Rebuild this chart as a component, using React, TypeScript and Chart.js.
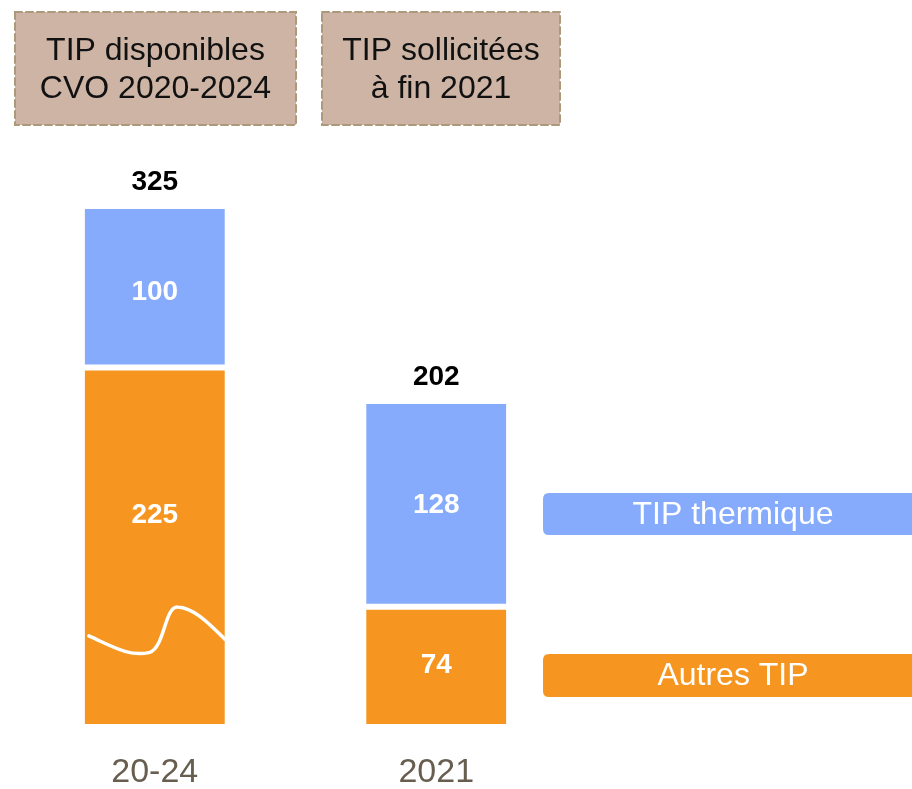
import React, { useEffect, useRef } from "react";
import { Chart, registerables } from "chart.js";

Chart.register(...registerables);

const categories = ["20-24", "2021"];
const autresTip = [225, 74];
const tipThermique = [100, 128];
const headerLines = [
  ["TIP disponibles", "CVO 2020-2024"],
  ["TIP sollicitées", "à fin 2021"],
];
const legendLabels = ["TIP thermique", "Autres TIP"];
const innerLabelOffsets = [[-30, 0], [4, 0]]; // [orange], [blue] per category (px)

const BLUE = "rgb(134,171,253)";
const ORANGE = "rgb(246,150,32)";
const FONT = "'Liberation Sans', Arial, sans-serif";

// decorative white curve inside first orange bar (fractions of bar rect)
const curve = [
  [0.03, 0.753],
  [0.18, 0.779], [0.32, 0.814], [0.464, 0.799],
  [0.571, 0.785], [0.571, 0.669], [0.664, 0.672],
  [0.786, 0.674], [0.907, 0.727], [1.0, 0.762],
];

function roundRect(ctx: CanvasRenderingContext2D, x: number, y: number, w: number, h: number, r: number) {
  ctx.beginPath();
  ctx.moveTo(x + r, y);
  ctx.lineTo(x + w - r, y);
  ctx.quadraticCurveTo(x + w, y, x + w, y + r);
  ctx.lineTo(x + w, y + h - r);
  ctx.quadraticCurveTo(x + w, y + h, x + w - r, y + h);
  ctx.lineTo(x + r, y + h);
  ctx.quadraticCurveTo(x, y + h, x, y + h - r);
  ctx.lineTo(x, y + r);
  ctx.quadraticCurveTo(x, y, x + r, y);
  ctx.closePath();
}

const overlayPlugin = {
  id: "overlay",
  afterDatasetsDraw(chart: any) {
    const ctx: CanvasRenderingContext2D = chart.ctx;
    ctx.save();
    const metaO = chart.getDatasetMeta(0);
    const metaB = chart.getDatasetMeta(1);

    // curve in first orange bar
    const b0 = metaO.data[0].getProps(["x", "y", "base", "width"], true);
    const bx = b0.x - b0.width / 2;
    const by = b0.y;
    const bw = b0.width;
    const bh = b0.base - b0.y;
    const P = (i: number) => [bx + curve[i][0] * bw, by + curve[i][1] * bh];
    ctx.beginPath();
    ctx.moveTo(P(0)[0], P(0)[1]);
    for (let i = 1; i < curve.length; i += 3) {
      const a = P(i), b = P(i + 1), c = P(i + 2);
      ctx.bezierCurveTo(a[0], a[1], b[0], b[1], c[0], c[1]);
    }
    ctx.strokeStyle = "#ffffff";
    ctx.lineWidth = 3.5;
    ctx.lineCap = "round";
    ctx.stroke();

    // inner labels
    ctx.textAlign = "center";
    ctx.textBaseline = "middle";
    ctx.font = `bold 28px ${FONT}`;
    ctx.fillStyle = "#ffffff";
    [metaO, metaB].forEach((meta: any, di: number) => {
      const vals = di === 0 ? autresTip : tipThermique;
      meta.data.forEach((el: any, i: number) => {
        const p = el.getProps(["x", "y", "base"], true);
        ctx.fillText(String(vals[i]), p.x, (p.y + p.base) / 2 + innerLabelOffsets[di][i]);
      });
    });

    // totals
    ctx.fillStyle = "#000000";
    metaB.data.forEach((el: any, i: number) => {
      const p = el.getProps(["x", "y"], true);
      ctx.fillText(String(autresTip[i] + tipThermique[i]), p.x, p.y - 27);
    });

    // header boxes
    const headerBoxes = [
      [15, 12, 281, 113],
      [322, 12, 238, 113],
    ];
    headerBoxes.forEach((bxs, i) => {
      const [x, y, w, h] = bxs;
      ctx.fillStyle = "rgb(205,180,165)";
      ctx.fillRect(x, y, w, h);
      ctx.setLineDash([7, 4]);
      ctx.lineWidth = 2;
      ctx.strokeStyle = "rgb(172,152,122)";
      ctx.strokeRect(x, y, w, h);
      ctx.setLineDash([]);
      ctx.fillStyle = "#111111";
      ctx.font = `32px ${FONT}`;
      ctx.fillText(headerLines[i][0], x + w / 2, 51);
      ctx.fillText(headerLines[i][1], x + w / 2, 89);
    });

    // legend boxes
    const legendBoxes = [
      [543, 493, 380, 42, BLUE],
      [543, 654, 380, 43, ORANGE],
    ];
    legendBoxes.forEach((lb: any, i) => {
      const [x, y, w, h, c] = lb;
      ctx.fillStyle = c;
      roundRect(ctx, x, y, w, h, 6);
      ctx.fill();
      ctx.fillStyle = "#ffffff";
      ctx.font = `32px ${FONT}`;
      ctx.fillText(legendLabels[i], 733, y + h / 2 + 1);
    });

    ctx.restore();
  },
};

export default function App() {
  const ref = useRef<HTMLCanvasElement>(null);
  useEffect(() => {
    if (!ref.current) return;
    const chart = new Chart(ref.current, {
      type: "bar",
      data: {
        labels: categories,
        datasets: [
          {
            label: "Autres TIP",
            data: autresTip,
            backgroundColor: ORANGE,
            borderColor: "#ffffff",
            borderWidth: { top: 3, bottom: 0, left: 0, right: 0 },
            borderSkipped: false,
            barPercentage: 1,
            categoryPercentage: 0.498,
          },
          {
            label: "TIP thermique",
            data: tipThermique,
            backgroundColor: BLUE,
            borderColor: "#ffffff",
            borderWidth: { top: 0, bottom: 3, left: 0, right: 0 },
            borderSkipped: false,
            barPercentage: 1,
            categoryPercentage: 0.498,
          },
        ],
      },
      options: {
        animation: false,
        responsive: true,
        maintainAspectRatio: false,
        layout: { padding: { top: 209, left: 14, right: 335, bottom: 0 } },
        plugins: { legend: { display: false }, tooltip: { enabled: false } },
        scales: {
          x: {
            stacked: true,
            grid: { display: false, drawTicks: false },
            border: { display: false },
            ticks: {
              color: "rgb(104,94,80)",
              font: { family: FONT, size: 34 },
              padding: 28,
            },
            afterFit: (scale: any) => {
              scale.height = 65;
            },
          },
          y: {
            stacked: true,
            display: false,
            min: 0,
            max: 325,
          },
        },
      },
      plugins: [overlayPlugin],
    });
    return () => chart.destroy();
  }, []);
  return (
    <div style={{ position: "fixed", left: 0, top: 0, width: 912, height: 789, background: "#fff" }}>
      <canvas ref={ref} />
    </div>
  );
}
